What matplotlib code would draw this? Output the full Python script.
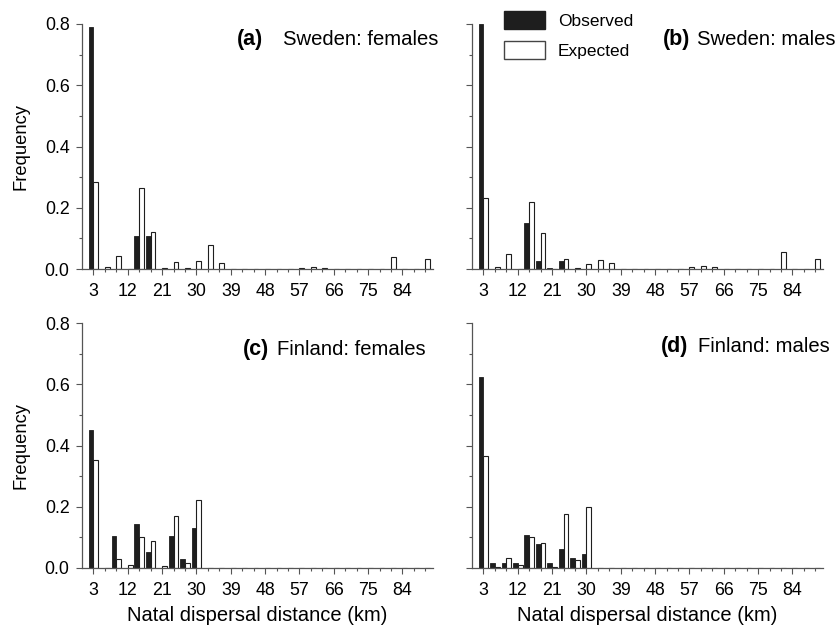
import matplotlib
matplotlib.use("Agg")
import matplotlib.pyplot as plt
import numpy as np
from matplotlib.patches import Patch

plt.rcParams["font.family"] = ["Liberation Sans", "DejaVu Sans"]

# distance classes (km), 3 km bins
distance = list(range(3, 91, 3))

# Sweden: females
swe_f_obs = [0.79, 0, 0, 0, 0.107, 0.107, 0, 0, 0, 0, 0, 0, 0, 0, 0,
             0, 0, 0, 0, 0, 0, 0, 0, 0, 0, 0, 0, 0, 0, 0]
swe_f_exp = [0.283, 0.005, 0.042, 0, 0.265, 0.122, 0.002, 0.024, 0.002, 0.027,
             0.078, 0.02, 0, 0, 0, 0, 0, 0, 0.002, 0.008, 0.004, 0, 0, 0, 0,
             0, 0.038, 0, 0, 0.032]

# Sweden: males
swe_m_obs = [0.80, 0, 0, 0, 0.151, 0.026, 0.002, 0.026, 0, 0, 0, 0, 0, 0, 0,
             0, 0, 0, 0, 0, 0, 0, 0, 0, 0, 0, 0, 0, 0, 0]
swe_m_exp = [0.232, 0.008, 0.05, 0, 0.22, 0.117, 0, 0.033, 0.004, 0.017,
             0.031, 0.02, 0, 0, 0, 0, 0, 0, 0.005, 0.011, 0.005, 0, 0, 0, 0,
             0, 0.056, 0, 0, 0.032]

# Finland: females
fin_f_obs = [0.451, 0, 0.103, 0, 0.143, 0.052, 0, 0.103, 0.028, 0.13,
             0, 0, 0, 0, 0, 0, 0, 0, 0, 0, 0, 0, 0, 0, 0, 0, 0, 0, 0, 0]
fin_f_exp = [0.353, 0, 0.03, 0.011, 0.101, 0.089, 0.008, 0.171, 0.016, 0.221,
             0, 0, 0, 0, 0, 0, 0, 0, 0, 0, 0, 0, 0, 0, 0, 0, 0, 0, 0, 0]

# Finland: males
fin_m_obs = [0.623, 0.015, 0.015, 0.015, 0.108, 0.077, 0.015, 0.062, 0.032, 0.047,
             0, 0, 0, 0, 0, 0, 0, 0, 0, 0, 0, 0, 0, 0, 0, 0, 0, 0, 0, 0]
fin_m_exp = [0.365, 0.002, 0.034, 0.011, 0.102, 0.083, 0.003, 0.176, 0.027, 0.199,
             0, 0, 0, 0, 0, 0, 0, 0, 0, 0, 0, 0, 0, 0, 0, 0, 0, 0, 0, 0]

panels = [
    ("(a)", "Sweden: females", swe_f_obs, swe_f_exp),
    ("(b)", "Sweden: males", swe_m_obs, swe_m_exp),
    ("(c)", "Finland: females", fin_f_obs, fin_f_exp),
    ("(d)", "Finland: males", fin_m_obs, fin_m_exp),
]

AXC = "#555555"
BLACK = "#1e1e1e"

W, H = 836, 629
fig = plt.figure(figsize=(W / 100, H / 100), dpi=100)

def px(x, y):
    # pixel position (from top-left) -> figure fraction
    return x / W, 1 - y / H

# axes boxes: left, top, width, height in pixels
boxes = [(82, 24, 351, 245), (472, 24, 351, 245),
         (82, 323, 351, 245), (472, 323, 351, 245)]
# panel label positions: tag x, name x, baseline y
labels_at = [(237, 283, 45), (663, 697, 45), (243, 277, 355), (661, 698, 352)]

x = np.array(distance, dtype=float)
bw = 1.25

for i, (tag, name, obs, exp) in enumerate(panels):
    l, t, w, h = boxes[i]
    ax = fig.add_axes([l / W, 1 - (t + h) / H, w / W, h / H])
    ax.bar(x - bw / 2, obs, width=bw, color=BLACK, edgecolor=BLACK, linewidth=0.6)
    ax.bar(x + bw / 2, exp, width=bw, color="white", edgecolor=BLACK, linewidth=0.8)
    ax.set_xlim(0, 92)
    ax.set_ylim(0, 0.8)
    ax.spines[["top", "right"]].set_visible(False)
    for s in ["left", "bottom"]:
        ax.spines[s].set_color(AXC)
        ax.spines[s].set_linewidth(0.9)
    ax.set_xticks(range(3, 85, 9))
    ax.set_xticks(distance, minor=True)
    ax.set_yticks([0, 0.2, 0.4, 0.6, 0.8])
    ax.set_yticks([0.1, 0.3, 0.5, 0.7], minor=True)
    ax.tick_params(which="major", length=4, width=0.8, color=AXC, labelsize=12.8, pad=6)
    ax.tick_params(which="minor", length=2.5, width=0.8, color=AXC)
    ax.tick_params(axis="y", which="major", pad=5)
    ax.yaxis.set_major_formatter(plt.FormatStrFormatter("%.1f"))
    if i % 2 == 1:
        ax.tick_params(axis="y", labelleft=False)
    else:
        fig.text(*px(21, t + h / 2), "Frequency", fontsize=13.2, rotation=90,
                 ha="center", va="center")
    if i >= 2:
        fig.text(*px(l + w / 2, 621), "Natal dispersal distance (km)",
                 fontsize=14.5, ha="center", va="baseline")
    tx, nx, by = labels_at[i]
    fig.text(*px(tx, by), tag, fontsize=15.5, fontweight="bold",
             ha="left", va="baseline")
    fig.text(*px(nx, by), name, fontsize=14.6, ha="left", va="baseline")

handles = [Patch(facecolor=BLACK, edgecolor=BLACK, label="Observed"),
           Patch(facecolor="white", edgecolor="#444444", label="Expected")]
fig.legend(handles=handles, loc="upper left", bbox_to_anchor=px(504, 11),
           frameon=False, fontsize=12.5, handlelength=2.36, handleheight=1.2,
           handletextpad=0.75, labelspacing=0.72, borderpad=0, borderaxespad=0)

fig.savefig("out.png", dpi=100)
